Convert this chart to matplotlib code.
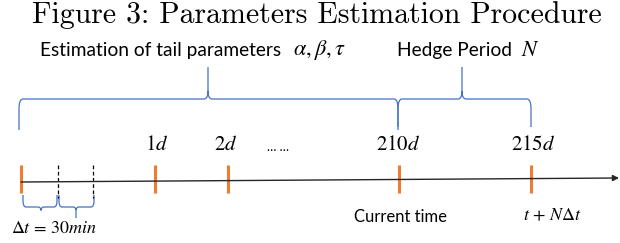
import matplotlib
matplotlib.use("Agg")
import matplotlib.pyplot as plt
from matplotlib.path import Path
from matplotlib.patches import PathPatch

plt.rcParams['mathtext.fontset'] = 'stix'
plt.rcParams['font.family'] = ['Lato', 'DejaVu Sans']

# diagram content
title = "Figure 3: Parameters Estimation Procedure"
tick_pos = [21, 155, 228, 399, 531]          # orange marks on the time line
day_labels = ["$1d$", "$2d$", "$210d$", "$215d$"]
day_label_pos = [157, 226, 398, 533]
half_hours = [58, 93]                         # dashed 30 min steps
top_braces = [(19, 398, 208, 130), (398, 531, 462, 127)]   # x0, x1, tip, end y
small_braces = [(23, 57, 41, 211), (59, 94, 76, 218)]      # x0, x1, tip, tip y

BLUE = '#4472C4'
ORANGE = '#ED7D31'


def brace(ax, x0, x1, xt, y_end, y_h, y_tip, rx=4, ry=10, rt=8):
    s = 1 if y_end > y_h else -1   # ends go to y_end, tip goes the other way
    verts = [(x0, y_end), (x0, y_h + s * ry), (x0, y_h), (x0 + rx, y_h),
             (xt - rx, y_h), (xt, y_h), (xt, y_h - s * rt), (xt, y_tip)]
    codes = [Path.MOVETO, Path.LINETO, Path.CURVE3, Path.CURVE3,
             Path.LINETO, Path.CURVE3, Path.CURVE3, Path.LINETO]
    verts += [(xt, y_h - s * rt), (xt, y_h), (xt + rx, y_h),
              (x1 - rx, y_h), (x1, y_h), (x1, y_h + s * ry), (x1, y_end)]
    codes += [Path.MOVETO, Path.CURVE3, Path.CURVE3,
              Path.LINETO, Path.CURVE3, Path.CURVE3, Path.LINETO]
    ax.add_patch(PathPatch(Path(verts, codes), fc='none', ec=BLUE, lw=0.9))


fig = plt.figure(figsize=(6.2, 2.43), dpi=100)
ax = fig.add_axes([0, 0, 1, 1])
ax.set_xlim(0, 620)
ax.set_ylim(243, 0)
ax.axis('off')

ax.text(317, 15, title, family='cmr10', fontsize=21.5, ha='center', va='center')

ax.text(40, 50, "Estimation of tail parameters", fontsize=13.8,
        ha='left', va='center')
ax.text(293, 50, r"$\alpha, \beta, \tau$", fontsize=16, ha='left', va='center')
ax.text(397, 50, "Hedge Period", fontsize=13.8, ha='left', va='center')
ax.text(521, 50, "$N$", fontsize=16, ha='left', va='center')

for x0, x1, xt, ye in top_braces:
    brace(ax, x0, x1, xt, ye, 99, 67)
for x0, x1, xt, yt in small_braces:
    brace(ax, x0, x1, xt, 195, 207, yt, rx=3, ry=6, rt=3)

# time line
ax.annotate("", xy=(619, 178), xytext=(21, 182),
            arrowprops=dict(arrowstyle='-|>', color='#262626', lw=1.0,
                            mutation_scale=9, shrinkA=0, shrinkB=0))
for x in tick_pos:
    ax.plot([x, x], [165, 193], color=ORANGE, lw=2.2, solid_capstyle='butt')
for x in half_hours:
    ax.plot([x, x], [165, 198], color='black', lw=0.9, ls=(0, (3, 2)))

for x, lab in zip(day_label_pos, day_labels):
    ax.text(x, 144, lab, fontsize=15, ha='center', va='center')
ax.text(278, 147, "\u2026 \u2026", fontsize=9, ha='center', va='center')

ax.text(54, 228, r"$\Delta t\,=\,30min$", fontsize=13, ha='center', va='center')
ax.text(400, 217, "Current time", fontsize=12, ha='center', va='center')
ax.text(553, 215, r"$t\,+\,N\Delta t$", fontsize=13, ha='center', va='center')

fig.savefig("out.png", dpi=100)
